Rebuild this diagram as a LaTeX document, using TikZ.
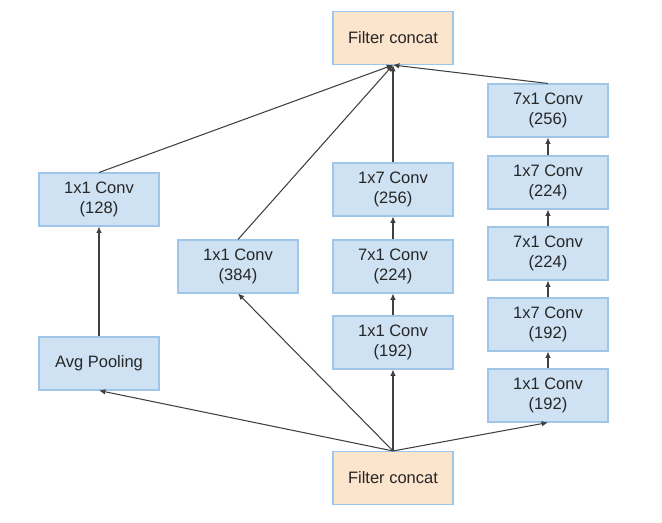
\documentclass[tikz,border=0pt]{standalone}
\usepackage{fontspec}
\setmainfont{Liberation Sans}
\usetikzlibrary{arrows.meta}
\definecolor{convfill}{HTML}{CFE2F3}
\definecolor{catfill}{HTML}{FCE5CD}
\definecolor{boxline}{HTML}{9FC5E8}
\definecolor{wire}{HTML}{404040}
\begin{document}
\begin{tikzpicture}[x=0.02cm,y=-0.02cm,
  blk/.style={draw=boxline,line width=0.6pt,minimum width=2.4cm,minimum height=1.06cm,
    inner sep=0pt,align=center,font=\fontsize{9.4}{11.4}\selectfont,text=black!85},
  conv/.style={blk,fill=convfill},
  cat/.style={blk,fill=catfill},
  link/.style={draw=wire,line width=0.6pt,-{Latex[length=3.6pt,width=3.2pt]}}]
\useasboundingbox (0,0) rectangle (662,523);
% concat nodes
\node[cat] (top) at (393,38) {Filter concat};
\node[cat] (bot) at (393,478) {Filter concat};
% pooling branch
\node[conv] (a0) at (99,363.5) {Avg Pooling};
\node[conv] (a1) at (99,199.5) {1x1 Conv\\(128)};
% single conv branch
\node[conv] (b) at (238,266.5) {1x1 Conv\\(384)};
% 1x7 / 7x1 branch
\node[conv] (c1) at (393,342.5) {1x1 Conv\\(192)};
\node[conv] (c2) at (393,266.5) {7x1 Conv\\(224)};
\node[conv] (c3) at (393,189.5) {1x7 Conv\\(256)};
% double factorised branch
\node[conv] (d1) at (548,395.5) {1x1 Conv\\(192)};
\node[conv] (d2) at (548,324.5) {1x7 Conv\\(192)};
\node[conv] (d3) at (548,253.5) {7x1 Conv\\(224)};
\node[conv] (d4) at (548,182.5) {1x7 Conv\\(224)};
\node[conv] (d5) at (548,110.5) {7x1 Conv\\(256)};
% inputs
\draw[link] (bot.north) -- (a0.south);
\draw[link] (bot.north) -- (b.south);
\draw[link] (bot.north) -- (c1.south);
\draw[link] (bot.north) -- (d1.south);
% inside branches
\draw[link] (a0) -- (a1);
\draw[link] (c1) -- (c2);
\draw[link] (c2) -- (c3);
\draw[link] (d1) -- (d2);
\draw[link] (d2) -- (d3);
\draw[link] (d3) -- (d4);
\draw[link] (d4) -- (d5);
% outputs
\draw[link] (a1.north) -- (top.south);
\draw[link] (b.north) -- (top.south);
\draw[link] (c3.north) -- (top.south);
\draw[link] (d5.north) -- (top.south);
\end{tikzpicture}
\end{document}
